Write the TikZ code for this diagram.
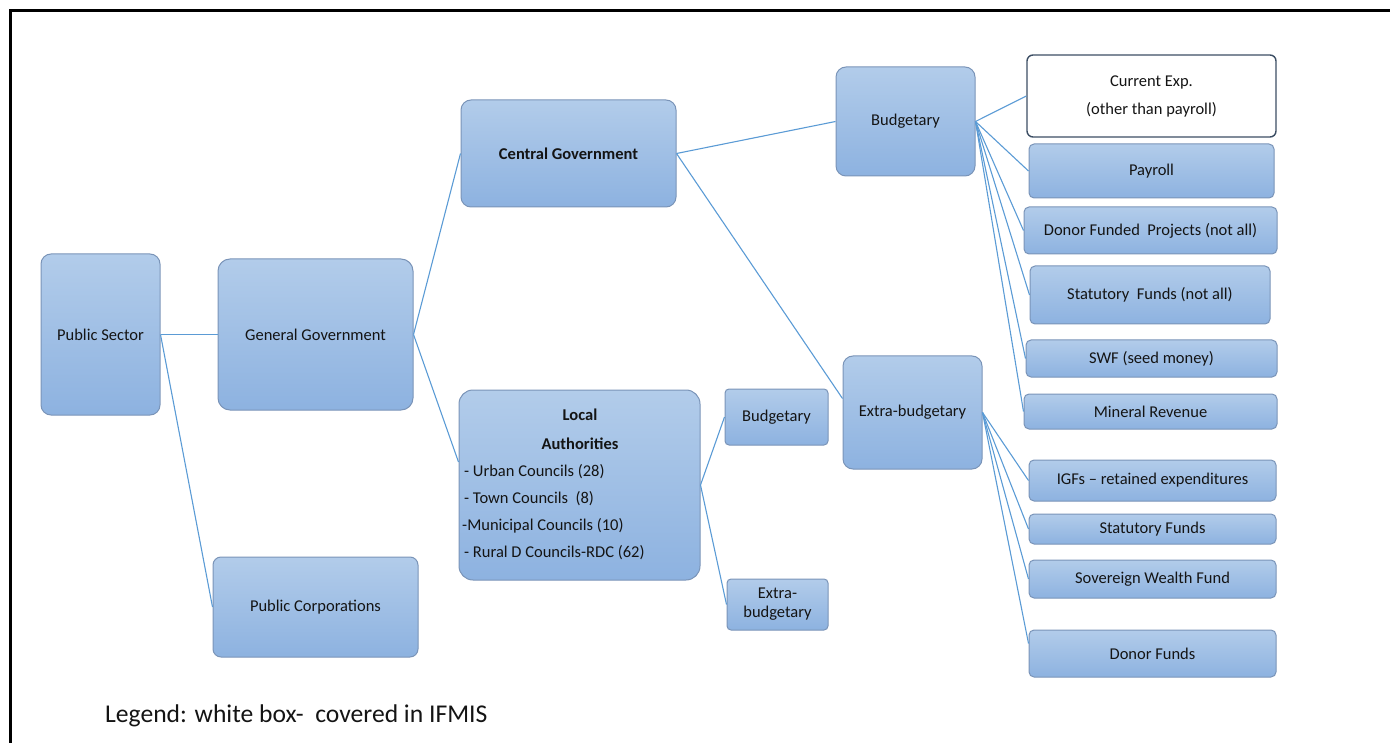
\documentclass[tikz,border=0pt]{standalone}
\usepackage{fontspec}
\setmainfont{Carlito}
\definecolor{boxtop}{RGB}{178,204,234}
\definecolor{boxbot}{RGB}{141,178,224}
\definecolor{boxline}{RGB}{122,148,184}
\definecolor{conn}{RGB}{91,155,213}
\definecolor{wline}{RGB}{60,78,100}
\definecolor{txt}{RGB}{20,20,20}
\tikzset{
  bluebox/.style={draw=boxline, line width=1pt, top color=boxtop, bottom color=boxbot,
    rounded corners=#1, inner sep=0pt, text=txt, align=center,
    font=\fontsize{16.5}{20}\selectfont},
  bluebox/.default=5pt,
  whitebox/.style={draw=wline, line width=1.4pt, fill=white, rounded corners=6pt,
    inner sep=0pt, text=txt, align=center, font=\fontsize{16.5}{28}\selectfont},
  lbl/.style={inner sep=0pt, text=txt, font=\fontsize{16.5}{20}\selectfont},
  link/.style={draw=conn, line width=1.1pt},
}
\begin{document}
\begin{tikzpicture}[x=1pt,y=-1pt]
\useasboundingbox (0,0) rectangle (1390,743);
% frame
\draw[line width=3pt, line cap=rect] (10,743) -- (10,11) -- (1390,11);

% boxes
\node[bluebox=10pt, minimum width=119pt, minimum height=161pt] (ps) at (100.5,334.5) {Public Sector};
\node[bluebox=12pt, minimum width=195pt, minimum height=151pt] (gg) at (315.5,334.5) {General Government};
\node[bluebox=10pt, minimum width=215pt, minimum height=107pt, font=\fontsize{16.5}{20}\selectfont\bfseries] (cg) at (568.5,153.5) {Central Government};
\node[bluebox=14pt, minimum width=241pt, minimum height=190pt] (la) at (579.5,485) {};
\node[bluebox=8pt, minimum width=205pt, minimum height=100pt] (pc) at (315.5,607) {Public Corporations};
\node[bluebox=10pt, minimum width=139pt, minimum height=109pt] (bc) at (905.5,121.5) {Budgetary};
\node[bluebox=10pt, minimum width=139pt, minimum height=113pt] (ec) at (912.5,412.5) {Extra-budgetary};
\node[bluebox=4pt, minimum width=103pt, minimum height=56pt] (bl) at (776.5,417) {Budgetary};
\node[bluebox=4pt, minimum width=101pt, minimum height=51pt, font=\fontsize{16.5}{19}\selectfont] (el) at (777.5,604.5) {Extra-\\budgetary};

\node[whitebox, minimum width=249pt, minimum height=82pt] (r1) at (1151.5,96) {Current Exp.\\(other than payroll)};
\node[bluebox, minimum width=245pt, minimum height=54pt] (r2) at (1151.5,171) {Payroll};
\node[bluebox, minimum width=253pt, minimum height=47pt] (r3) at (1150.5,230.5) {Donor Funded\ \ Projects (not all)};
\node[bluebox, minimum width=240pt, minimum height=58pt] (r4) at (1150,295) {Statutory\ \ Funds (not all)};
\node[bluebox, minimum width=251pt, minimum height=37pt] (r5) at (1151.5,358.5) {SWF (seed money)};
\node[bluebox, minimum width=253pt, minimum height=35pt] (r6) at (1150.5,411.5) {Mineral Revenue};
\node[bluebox, minimum width=247pt, minimum height=41pt] (r7) at (1152.5,480.5) {IGFs -- retained expenditures};
\node[bluebox, minimum width=247pt, minimum height=30pt] (r8) at (1152.5,529) {Statutory Funds};
\node[bluebox, minimum width=247pt, minimum height=38pt] (r9) at (1152.5,579) {Sovereign Wealth Fund};
\node[bluebox, minimum width=247pt, minimum height=47pt] (r10) at (1152.5,653.5) {Donor Funds};

% local authorities text
\node[lbl, font=\fontsize{16.5}{20}\selectfont\bfseries] (la1) at (580,415) {Local};
\node[lbl, font=\fontsize{16.5}{20}\selectfont\bfseries] (la2) at (580,444) {Authorities};
\node[lbl, anchor=west] (la3) at (464,472) {- Urban Councils (28)};
\node[lbl, anchor=west] (la4) at (464,499) {- Town Councils\ \ (8)};
\node[lbl, anchor=west] (la5) at (462,526) {-Municipal Councils (10)};
\node[lbl, anchor=west] (la6) at (464,553) {- Rural D Councils-RDC (62)};

% legend
\node[inner sep=0pt, anchor=west, text=txt, font=\fontsize{25.6}{30}\selectfont] (leg) at (105,716) {Legend: white box-\ \ covered in IFMIS};

% connectors
\draw[link] (ps.east) -- (gg.west);
\draw[link] (ps.east) -- (pc.west);
\draw[link] (gg.east) -- (cg.west);
\draw[link] (gg.east) -- ([yshift=23pt]la.west);
\draw[link] (cg.east) -- (bc.west);
\draw[link] (cg.east) -- ([yshift=14pt]ec.west);
\draw[link] (la.east) -- (bl.west);
\draw[link] (la.east) -- (el.west);
\foreach \t in {r1,r2,r3,r4,r5,r6} \draw[link] (bc.east) -- (\t.west);
\foreach \t in {r7,r8,r9} \draw[link] (ec.east) -- (\t.west);
\draw[link] (ec.east) -- ([yshift=10pt]r10.west);
\end{tikzpicture}
\end{document}
